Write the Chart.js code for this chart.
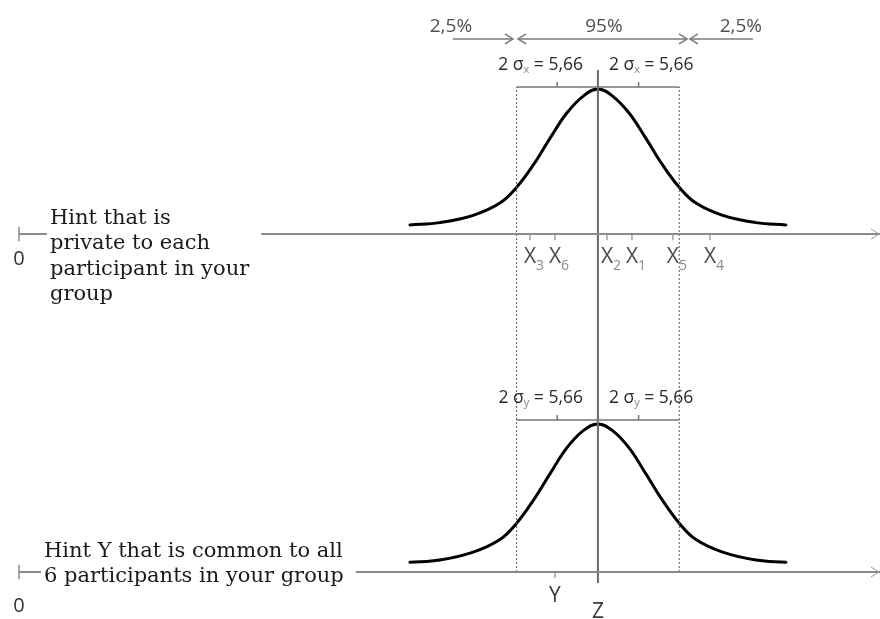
<!DOCTYPE html>
<html>
<head>
<meta charset="utf-8">
<script src="https://cdn.jsdelivr.net/npm/chart.js@4.4.1/dist/chart.umd.min.js"></script>
<style>
html,body{margin:0;padding:0;background:#fff;}
#wrap{width:880px;height:619px;position:relative;}
</style>
</head>
<body>
<div id="wrap"><canvas id="c" width="880" height="619"></canvas></div>
<script>
// ================= DATA =================
const axisStart = 0;                 // both hint axes start at 0
const axisEnd = 59.92;               // axes run to the right edge
const centreZ = 40.29;               // true value Z
const twoSigma = 5.66;               // 2 sigma = 5,66
const sigma = 2.83;
// density curve, offsets from Z and heights (peak ~ 1)
const densityOffsets = [-13.08,-11.0,-8.68,-6.82,-5.66,-4.50,-3.34,-2.18,-1.02,0,1.02,2.18,3.34,4.50,5.66,6.82,8.68,11.0,13.08];
const privateDensity = [0.062,0.078,0.128,0.212,0.320,0.473,0.655,0.827,0.945,0.993,0.945,0.827,0.655,0.473,0.320,0.212,0.128,0.078,0.062];
const commonDensity  = [0.066,0.082,0.136,0.222,0.334,0.490,0.672,0.848,0.968,1.014,0.968,0.848,0.672,0.490,0.334,0.222,0.136,0.082,0.066];
// private hints X3, X6, X2, X1, X5, X4
const privateHintValues = [35.56,37.30,40.92,42.66,45.51,48.09];
const privateHintSubs   = ['3','6','2','1','5','4'];
// common hint Y
const commonHintValue = 37.30;
// tail shares
const shareLabels = ['2,5%','95%','2,5%'];
const shareLabelAt = [30.06,40.71,50.24];
const shareArrowFrom = [30.20,34.73,51.08];
const shareArrowTo   = [34.38,46.49,46.69];
// texts
const privateHintText = ['Hint that is','private to each','participant in your','group'];
const commonHintText  = ['Hint Y that is common to all','6 participants in your group'];
const sigmaSubs = ['x','y'];
const sigmaValueText = '5,66';
const originLabel = '0';

// ================= LAYOUT (diagram units) =================
const rowBase = [2.315, 0];          // baseline of private row, common row
const bracketLevel = [1.007, 1.041]; // bracket height above each baseline
const arrowLevel = 3.651;
const zLineTop = 3.438, zLineBottom = -0.075;

// ================= BUILD DATASETS =================
const GAP = (x) => ({x: x, y: null});
const lineDs = (data, color, width, extra) => Object.assign({
  type: 'scatter', data, showLine: true, borderColor: color, borderWidth: width,
  pointRadius: 0, pointHoverRadius: 0, fill: false, spanGaps: false, tension: 0
}, extra || {});

const datasets = [];
// axes
rowBase.forEach(b => {
  datasets.push(lineDs([{x: axisStart, y: b}, {x: axisEnd, y: b}], '#8a8a8a', 2));
  datasets.push(lineDs([{x: axisStart, y: b - 0.05}, {x: axisStart, y: b + 0.05}], '#8a8a8a', 1.5));
});
// dashed 95% bounds
datasets.push(lineDs([
  {x: centreZ - twoSigma, y: 0}, {x: centreZ - twoSigma, y: rowBase[0] + bracketLevel[0]}, GAP(centreZ - twoSigma),
  {x: centreZ + twoSigma, y: 0}, {x: centreZ + twoSigma, y: rowBase[0] + bracketLevel[0]}
], '#555', 1, {borderDash: [2, 2]}));
// brackets with sigma ticks
rowBase.forEach((b, i) => {
  const lv = b + bracketLevel[i];
  datasets.push(lineDs([
    {x: centreZ - twoSigma, y: lv}, {x: centreZ + twoSigma, y: lv}, GAP(centreZ + twoSigma),
    {x: centreZ - sigma, y: lv}, {x: centreZ - sigma, y: lv + 0.035}, GAP(centreZ - sigma),
    {x: centreZ + sigma, y: lv}, {x: centreZ + sigma, y: lv + 0.035}
  ], '#777', 1.5));
});
// Z line
datasets.push(lineDs([{x: centreZ, y: zLineBottom}, {x: centreZ, y: zLineTop}], '#6a6a6a', 2));
// hint ticks
const tickPts = [];
privateHintValues.forEach(v => { tickPts.push({x: v, y: rowBase[0]}, {x: v, y: rowBase[0] - 0.042}, GAP(v)); });
datasets.push(lineDs(tickPts, '#8a8a8a', 1.2));
datasets.push(lineDs([{x: commonHintValue, y: rowBase[1]}, {x: commonHintValue, y: rowBase[1] - 0.042}], '#8a8a8a', 1.2));
// share arrows
shareArrowFrom.forEach((f, i) => {
  datasets.push(lineDs([{x: f, y: arrowLevel}, {x: shareArrowTo[i], y: arrowLevel}], '#7a7a7a', 1.5));
});
// density curves
[privateDensity, commonDensity].forEach((dens, i) => {
  datasets.push(lineDs(densityOffsets.map((o, k) => ({x: centreZ + o, y: rowBase[i] + dens[k]})),
    '#000', 3, {tension: 0.4, borderCapStyle: 'round'}));
});

// ================= TEXT / ARROWHEAD PLUGIN =================
const diagramText = {
  id: 'diagramText',
  afterDatasetsDraw(chart) {
    const ctx = chart.ctx;
    const sx = chart.scales.x, sy = chart.scales.y;
    const px = v => sx.getPixelForValue(v), py = v => sy.getPixelForValue(v);
    ctx.save();

    // arrowheads
    const head = (xTip, yTip, dir) => {
      ctx.beginPath();
      ctx.moveTo(xTip - dir * 8, yTip - 5);
      ctx.lineTo(xTip, yTip);
      ctx.lineTo(xTip - dir * 8, yTip + 5);
      ctx.stroke();
    };
    ctx.strokeStyle = '#7a7a7a'; ctx.lineWidth = 1.5;
    shareArrowFrom.forEach((f, i) => {
      const t = shareArrowTo[i], dir = t > f ? 1 : -1;
      head(px(t), py(arrowLevel), dir);
      if (i === 1) head(px(f), py(arrowLevel), -dir);
    });
    // axis end arrow marks
    ctx.strokeStyle = '#9a9a9a'; ctx.lineWidth = 1;
    rowBase.forEach(b => head(px(axisEnd) - 1, py(b), 1));

    // hint text blocks (with white backing that interrupts the axis)
    ctx.font = '21px "DejaVu Serif"';
    ctx.textBaseline = 'alphabetic';
    ctx.textAlign = 'left';
    const drawBlock = (lines, base, firstOffset, leftPx) => {
      const w = Math.max(...lines.map(l => ctx.measureText(l).width));
      const y0 = py(base) + firstOffset;
      ctx.fillStyle = '#fff';
      ctx.fillRect(leftPx - 3, y0 - 20, w + 15, (lines.length - 1) * 25 + 28);
      ctx.fillStyle = '#1a1a1a';
      lines.forEach((l, k) => ctx.fillText(l, leftPx, y0 + k * 25.3));
    };
    drawBlock(privateHintText, rowBase[0], -10, px(axisStart) + 31);
    drawBlock(commonHintText, rowBase[1], -15, px(axisStart) + 25);

    // origin labels
    ctx.font = '20px "Open Sans"';
    ctx.fillStyle = '#333';
    ctx.textAlign = 'center';
    ctx.fillText(originLabel, px(axisStart), py(rowBase[0]) + 31);
    ctx.fillText(originLabel, px(axisStart), py(rowBase[1]) + 40);

    // X labels
    privateHintValues.forEach((v, i) => {
      const cx = px(v), by = py(rowBase[0]) + 29;
      ctx.font = '21px "Open Sans"';
      ctx.fillStyle = '#4a4a4a';
      ctx.textAlign = 'center';
      ctx.fillText('X', cx, by);
      ctx.font = '14px "Open Sans"';
      ctx.fillStyle = '#8a8a8a';
      ctx.textAlign = 'left';
      ctx.fillText(privateHintSubs[i], cx + 6, by + 7);
    });
    // Y and Z labels
    ctx.font = '21px "Open Sans"';
    ctx.fillStyle = '#3a3a3a';
    ctx.textAlign = 'center';
    ctx.fillText('Y', px(commonHintValue), py(rowBase[1]) + 30);
    ctx.fillText('Z', px(centreZ), py(rowBase[1]) + 46);

    // sigma labels
    const sigmaLabel = (xRef, align, baseY, sub) => {
      ctx.font = '17.5px "Open Sans"';
      const p1 = '2 σ', p3 = ' = ' + sigmaValueText;
      const w1 = ctx.measureText(p1).width, w3 = ctx.measureText(p3).width;
      ctx.font = '11px "Open Sans"';
      const w2 = ctx.measureText(sub).width;
      const total = w1 + w2 + w3;
      let x0 = align === 'right' ? xRef - total : xRef;
      ctx.textAlign = 'left';
      ctx.font = '17.5px "Open Sans"'; ctx.fillStyle = '#2a2a2a';
      ctx.fillText(p1, x0, baseY);
      ctx.font = '11px "Open Sans"'; ctx.fillStyle = '#888';
      ctx.fillText(sub, x0 + w1, baseY + 3);
      ctx.font = '17.5px "Open Sans"'; ctx.fillStyle = '#2a2a2a';
      ctx.fillText(p3, x0 + w1 + w2, baseY);
    };
    rowBase.forEach((b, i) => {
      const by = py(b + bracketLevel[i]) - 17;
      sigmaLabel(px(centreZ) - 15, 'right', by, sigmaSubs[i]);
      sigmaLabel(px(centreZ) + 11, 'left', by, sigmaSubs[i]);
    });

    // share labels
    ctx.font = '19px "Open Sans"';
    ctx.fillStyle = '#505050';
    ctx.textAlign = 'center';
    shareLabels.forEach((l, i) => ctx.fillText(l, px(shareLabelAt[i]), py(arrowLevel) - 7));

    ctx.restore();
  }
};

new Chart(document.getElementById('c'), {
  type: 'scatter',
  data: {datasets},
  options: {
    responsive: false,
    devicePixelRatio: 1,
    animation: false,
    events: [],
    layout: {padding: 0},
    plugins: {legend: {display: false}, tooltip: {enabled: false}, title: {display: false}},
    scales: {
      x: {type: 'linear', display: false, min: -1.32, max: 59.92},
      y: {type: 'linear', display: false, min: -0.322, max: 3.918}
    }
  },
  plugins: [diagramText]
});
</script>
</body>
</html>
